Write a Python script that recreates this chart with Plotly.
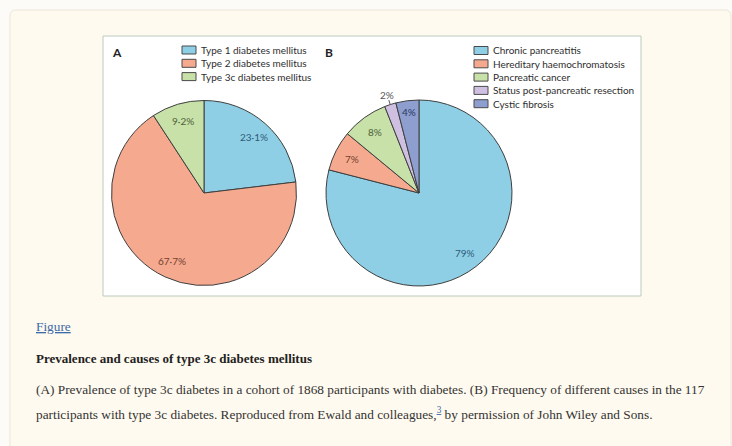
import math
import plotly.graph_objects as go

W, H = 732, 446

# Panel A: prevalence of diabetes types (%)
type_labels = ["Type 1 diabetes mellitus", "Type 2 diabetes mellitus", "Type 3c diabetes mellitus"]
type_values = [23.1, 67.7, 9.2]
type_colors = ["#8ecfe5", "#f5aa90", "#c7e1a8"]
type_text_colors = ["#2f5a78", "#74402f", "#4f6039"]

# Panel B: causes of type 3c diabetes (%)
cause_labels = ["Chronic pancreatitis", "Hereditary haemochromatosis", "Pancreatic cancer",
                "Status post-pancreatic resection", "Cystic fibrosis"]
cause_values = [79, 7, 8, 2, 4]
cause_colors = ["#8ecfe5", "#f5aa90", "#c7e1a8", "#cfc0e2", "#8d9ecf"]
cause_text_colors = ["#2f5a78", "#74402f", "#4f6039", "#555555", "#2a3660"]

LABEL_FONT = "Lato"
SERIF = "Liberation Serif"


def px(x):
    return x / W


def py(y):
    return 1 - y / H


def lancet_pct(v):
    s = f"{v:g}"
    return s.replace(".", "\u00b7") + "%"


# pie geometry (pixels): centre and radius
PIE_A = dict(cx=204, cy=193, r=92.5)
PIE_B = dict(cx=419, cy=193, r=93)


def domain(p):
    return dict(x=[px(p["cx"] - p["r"]), px(p["cx"] + p["r"])],
                y=[py(p["cy"] + p["r"]), py(p["cy"] - p["r"])])


fig = go.Figure()

for labels, values, colors, geo in [(type_labels, type_values, type_colors, PIE_A),
                                    (cause_labels, cause_values, cause_colors, PIE_B)]:
    fig.add_trace(go.Pie(
        labels=labels, values=values, sort=False, direction="clockwise", rotation=0,
        marker=dict(colors=colors, line=dict(color="#3f3f3f", width=1)),
        textinfo="none", hoverinfo="label+percent", showlegend=False,
        domain=domain(geo),
    ))

annotations = []
shapes = []


def slice_labels(values, text_colors, geo, outside_below=3):
    total = sum(values)
    cum = 0
    for v, c in zip(values, text_colors):
        mid = (cum + v / 2) / total * 2 * math.pi  # clockwise from 12 o'clock
        cum += v
        sx, sy = math.sin(mid), -math.cos(mid)
        if v < outside_below:
            # small slice: label outside with a short leader line
            r0, r1, rl = geo["r"], geo["r"] * 1.05, geo["r"] * 1.11
            shapes.append(dict(type="line", xref="paper", yref="paper",
                               x0=px(geo["cx"] + sx * r0), y0=py(geo["cy"] + sy * r0),
                               x1=px(geo["cx"] + sx * r1), y1=py(geo["cy"] + sy * r1),
                               line=dict(color="#555555", width=1), layer="above"))
        else:
            rl = geo["r"] * (0.88 if v < 5 else 0.81)
        annotations.append(dict(
            xref="paper", yref="paper", x=px(geo["cx"] + sx * rl), y=py(geo["cy"] + sy * rl),
            text=lancet_pct(v), showarrow=False, xanchor="center", yanchor="middle",
            font=dict(family=LABEL_FONT, size=10, color=c)))


slice_labels(type_values, type_text_colors, PIE_A)
slice_labels(cause_values, cause_text_colors, PIE_B)


def legend(labels, colors, x0, y0, step=13.3):
    for i, (lab, col) in enumerate(zip(labels, colors)):
        yc = y0 + i * step
        shapes.append(dict(type="rect", xref="paper", yref="paper",
                           x0=px(x0), x1=px(x0 + 14), y0=py(yc - 4), y1=py(yc + 4),
                           fillcolor=col, line=dict(color="#4a4a4a", width=1), layer="above"))
        annotations.append(dict(xref="paper", yref="paper", x=px(x0 + 17), y=py(yc),
                                text=lab, showarrow=False, xanchor="left", yanchor="middle",
                                font=dict(family=LABEL_FONT, size=10, color="#2e2e2e")))


legend(type_labels, type_colors, 182, 50)
legend(cause_labels, cause_colors, 474, 50.5)

# panel letters
for letter, x in [("A", 117), ("B", 329)]:
    annotations.append(dict(xref="paper", yref="paper", x=px(x), y=py(52), text=f"<b>{letter}</b>",
                            showarrow=False, xanchor="center", yanchor="middle",
                            font=dict(family=LABEL_FONT, size=12, color="#222222")))


def rounded_rect(x0, y0, x1, y1, rad):
    return (f"M {px(x0 + rad)},{py(y0)} L {px(x1 - rad)},{py(y0)} "
            f"Q {px(x1)},{py(y0)} {px(x1)},{py(y0 + rad)} L {px(x1)},{py(y1 - rad)} "
            f"Q {px(x1)},{py(y1)} {px(x1 - rad)},{py(y1)} L {px(x0 + rad)},{py(y1)} "
            f"Q {px(x0)},{py(y1)} {px(x0)},{py(y1 - rad)} L {px(x0)},{py(y0 + rad)} "
            f"Q {px(x0)},{py(y0)} {px(x0 + rad)},{py(y0)} Z")


# page card and white figure panel
shapes.insert(0, dict(type="path", xref="paper", yref="paper", path=rounded_rect(10, 10, 731, 470, 6),
                      fillcolor="#fffaef", line=dict(color="#ece5d8", width=1), layer="below"))
shapes.insert(1, dict(type="rect", xref="paper", yref="paper",
                      x0=px(103), x1=px(641), y0=py(296), y1=py(36),
                      fillcolor="#ffffff", line=dict(color="#bccabf", width=1), layer="below"))

# caption block
caption = [
    (326, "<u>Figure</u>", 13.3, "#3d6aa8"),
    (358, "<b>Prevalence and causes of type 3c diabetes mellitus</b>", 13, "#222222"),
    (389, "(A) Prevalence of type 3c diabetes in a cohort of 1868 participants with diabetes. "
          "(B) Frequency of different causes in the 117", 13.3, "#333333"),
    (413, "participants with type 3c diabetes. Reproduced from Ewald and colleagues,"
          "<sup><span style='color:#3d6aa8'><u>3</u></span></sup> by permission of John Wiley and Sons.",
     13.3, "#333333"),
]
for y, txt, size, col in caption:
    annotations.append(dict(xref="paper", yref="paper", x=px(34), y=py(y), text=txt,
                            showarrow=False, xanchor="left", yanchor="middle",
                            font=dict(family=SERIF, size=size, color=col)))

fig.update_layout(
    width=W, height=H, margin=dict(l=0, r=0, t=0, b=0),
    paper_bgcolor="#fcfbf7", plot_bgcolor="rgba(0,0,0,0)",
    shapes=shapes, annotations=annotations, showlegend=False,
)

fig.write_html("out.html")
